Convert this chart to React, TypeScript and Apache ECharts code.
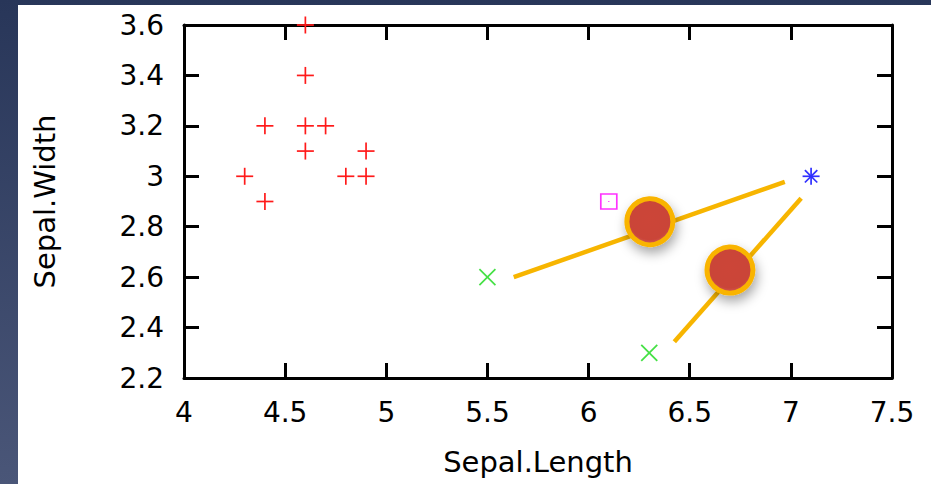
import React, { useEffect, useRef } from "react";
import * as echarts from "echarts";

const xTicks = [4, 4.5, 5, 5.5, 6, 6.5, 7, 7.5];
const yTicks = [2.2, 2.4, 2.6, 2.8, 3, 3.2, 3.4, 3.6];

const plusX = [4.6, 4.6, 4.4, 4.6, 4.7, 4.6, 4.9, 4.3, 4.8, 4.9, 4.4];
const plusY = [3.6, 3.4, 3.2, 3.2, 3.2, 3.1, 3.1, 3.0, 3.0, 3.0, 2.9];
const crossX = [5.5, 6.3];
const crossY = [2.6, 2.3];
const squareX = [6.1];
const squareY = [2.9];
const starX = [7.1];
const starY = [3.0];

const lineAX = [5.63, 6.97];
const lineAY = [2.6, 2.978];
const lineBX = [6.424, 7.051];
const lineBY = [2.344, 2.913];
const centroidX = [6.303, 6.699];
const centroidY = [2.82, 2.628];

const FONT = "DejaVu Sans";

function zip(xs: number[], ys: number[]) {
  return xs.map((x, i) => [x, ys[i]]);
}

function markerSeries(name: string, xs: number[], ys: number[], kind: string, color: string) {
  return {
    type: "custom",
    name,
    data: zip(xs, ys),
    z: 5,
    clip: false,
    renderItem: (params: any, api: any) => {
      const p = api.coord([api.value(0), api.value(1)]);
      const [cx, cy] = p;
      const st = { stroke: color, lineWidth: 1.7, fill: null };
      const h = 8.5;
      const d = kind === "star" ? 6.2 : 8;
      const children: any[] = [];
      const ln = (x1: number, y1: number, x2: number, y2: number) =>
        children.push({ type: "line", shape: { x1, y1, x2, y2 }, style: st });
      if (kind === "plus" || kind === "star") {
        ln(cx - h, cy, cx + h, cy);
        ln(cx, cy - h, cx, cy + h);
      }
      if (kind === "cross" || kind === "star") {
        ln(cx - d, cy - d, cx + d, cy + d);
        ln(cx - d, cy + d, cx + d, cy - d);
      }
      if (kind === "square") {
        children.push({
          type: "rect",
          shape: { x: cx - 8, y: cy - 7.5, width: 16, height: 15 },
          style: { stroke: color, lineWidth: 1.7, fill: null },
        });
        children.push({
          type: "rect",
          shape: { x: cx - 0.6, y: cy - 0.6, width: 1.2, height: 1.2 },
          style: { fill: color },
        });
      }
      return { type: "group", children };
    },
  };
}

export default function App() {
  const ref = useRef<HTMLDivElement>(null);
  useEffect(() => {
    if (!ref.current) return;
    const chart = echarts.init(ref.current, undefined, { renderer: "svg" });
    const axisLineStyle = { color: "#000", width: 3 };
    const tick = { show: true, inside: true, length: 15, lineStyle: { color: "#000", width: 3 } };
    const labelStyle = { color: "#000", fontFamily: FONT, fontSize: 28 };
    chart.setOption({
      animation: false,
      backgroundColor: {
        type: "linear",
        x: 0,
        y: 0,
        x2: 0,
        y2: 1,
        colorStops: [
          { offset: 0, color: "#283659" },
          { offset: 1, color: "#4a5678" },
        ],
      },
      graphic: [
        {
          type: "rect",
          z: -1,
          shape: { x: 18, y: 5, width: 913, height: 479 },
          style: { fill: "#ffffff" },
        },
      ],
      grid: { left: 184, top: 25, right: 39, bottom: 106, containLabel: false },
      xAxis: [
        {
          type: "value",
          min: 4,
          max: 7.5,
          interval: 0.5,
          position: "bottom",
          name: "Sepal.Length",
          nameLocation: "middle",
          nameGap: 69,
          nameTextStyle: { color: "#000", fontFamily: FONT, fontSize: 29 },
          axisLine: { show: true, lineStyle: axisLineStyle },
          axisTick: tick,
          axisLabel: { ...labelStyle, margin: 20, formatter: (v: number) => String(v) },
          splitLine: { show: false },
        },
        {
          type: "value",
          min: 4,
          max: 7.5,
          interval: 0.5,
          position: "top",
          axisLine: { show: true, lineStyle: axisLineStyle },
          axisTick: tick,
          axisLabel: { show: false },
          splitLine: { show: false },
        },
      ],
      yAxis: [
        {
          type: "value",
          min: 2.2,
          max: 3.6,
          interval: 0.2,
          position: "left",
          name: "Sepal.Width",
          nameLocation: "middle",
          nameGap: 125,
          nameRotate: 90,
          nameTextStyle: { color: "#000", fontFamily: FONT, fontSize: 29 },
          axisLine: { show: true, lineStyle: axisLineStyle },
          axisTick: tick,
          axisLabel: {
            ...labelStyle,
            margin: 20,
            formatter: (v: number) => String(Math.round(v * 10) / 10),
          },
          splitLine: { show: false },
        },
        {
          type: "value",
          min: 2.2,
          max: 3.6,
          interval: 0.2,
          position: "right",
          axisLine: { show: true, lineStyle: axisLineStyle },
          axisTick: tick,
          axisLabel: { show: false },
          splitLine: { show: false },
        },
      ],
      series: [
        markerSeries("setosa", plusX, plusY, "plus", "#ff1a1a"),
        markerSeries("versicolor", crossX, crossY, "cross", "#44e044"),
        markerSeries("other", squareX, squareY, "square", "#ff33ff"),
        markerSeries("virginica", starX, starY, "star", "#3030ff"),
        {
          type: "line",
          data: zip(lineAX, lineAY),
          showSymbol: false,
          z: 6,
          lineStyle: { color: "#f7b500", width: 4.5, cap: "butt" },
        },
        {
          type: "line",
          data: zip(lineBX, lineBY),
          showSymbol: false,
          z: 6,
          lineStyle: { color: "#f7b500", width: 4.5, cap: "butt" },
        },
        {
          type: "scatter",
          data: zip(centroidX, centroidY),
          symbol: "circle",
          symbolSize: 46,
          z: 8,
          itemStyle: {
            color: {
              type: "radial",
              x: 0.5,
              y: 0.45,
              r: 0.55,
              colorStops: [
                { offset: 0, color: "#cc4438" },
                { offset: 0.8, color: "#ca4439" },
                { offset: 1, color: "#d56158" },
              ],
            },
            borderColor: "#f9b400",
            borderWidth: 5,
            opacity: 1,
            shadowBlur: 12,
            shadowColor: "rgba(0,0,0,0.35)",
            shadowOffsetX: 2,
            shadowOffsetY: 6,
          },
          emphasis: { disabled: true },
        },
      ],
    });
    return () => chart.dispose();
  }, []);
  return (
    <div
      ref={ref}
      style={{ position: "fixed", left: 0, top: 0, width: 931, height: 484 }}
    />
  );
}
